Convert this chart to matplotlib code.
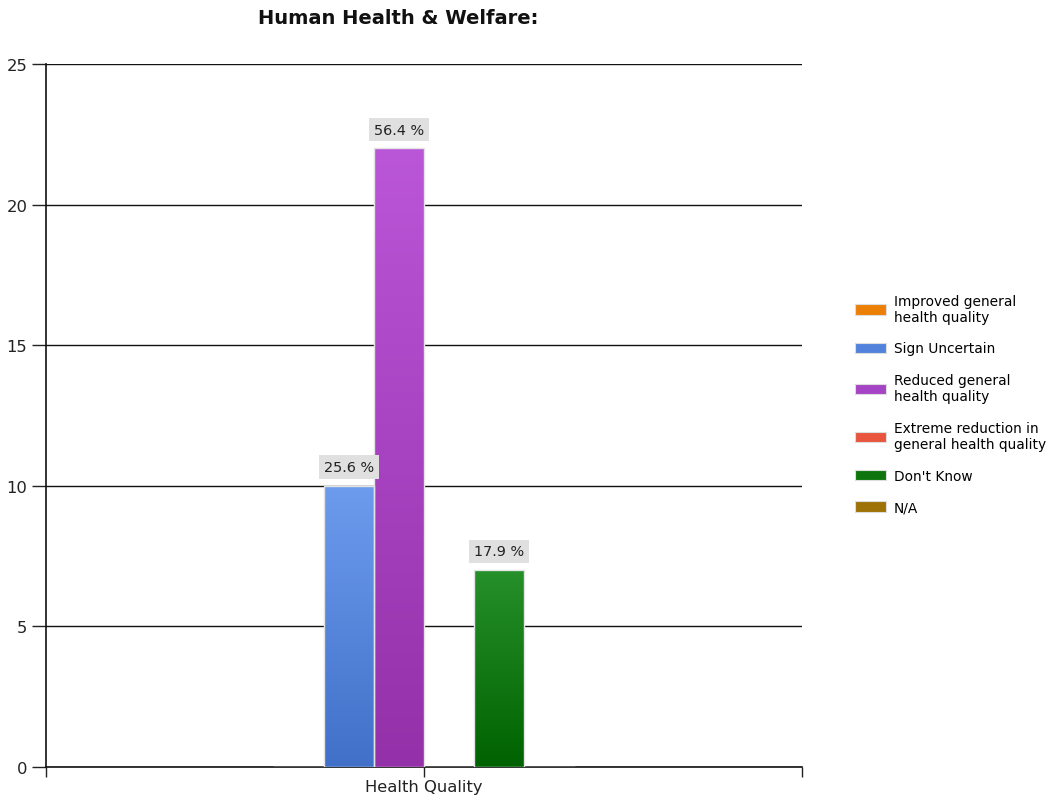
import numpy as np
import matplotlib
matplotlib.use("Agg")
import matplotlib.pyplot as plt
from matplotlib.colors import LinearSegmentedColormap
from matplotlib.patches import Patch

plt.rcParams['font.family'] = ['DejaVu Sans']

title = "Human Health & Welfare:"
category = "Health Quality"
series = ["Improved general\nhealth quality", "Sign Uncertain", "Reduced general\nhealth quality",
          "Extreme reduction in\ngeneral health quality", "Don't Know", "N/A"]
counts = [0, 10, 22, 0, 7, 0]
# gradient colours (top, bottom) for each series
top_colors = ["#F59A30", "#6D9CEE", "#BA56D8", "#F06A50", "#26902A", "#B08820"]
bottom_colors = ["#D06A00", "#4070C8", "#9430A8", "#D04028", "#006200", "#8A6000"]
legend_colors = ["#EC7F06", "#5283DC", "#A544C4", "#E8553C", "#0C760C", "#9E7206"]
y_ticks = [0, 5, 10, 15, 20, 25]

fig = plt.figure(figsize=(10.5, 8.03), dpi=100)
ax = fig.add_axes([46/1050, 1 - 768/803, (802-46)/1050, (768-65)/803])

n = len(series)
bar_w = 0.0664
offsets = (np.arange(n) - (n - 1) / 2) * bar_w
total = sum(counts)

for i, (lab, v) in enumerate(zip(series, counts)):
    x = offsets[i]
    bars = ax.bar(x, v, width=bar_w, facecolor='none', edgecolor='#E4E4E4',
                  linewidth=1.0, zorder=4)
    if v <= 0:
        continue
    patch = bars[0]
    cmap = LinearSegmentedColormap.from_list("g", [bottom_colors[i], top_colors[i]])
    grad = np.linspace(0, 1, 256).reshape(-1, 1)
    im = ax.imshow(grad, cmap=cmap, origin='lower', aspect='auto',
                   extent=(x - bar_w / 2, x + bar_w / 2, 0, v), zorder=3)
    im.set_clip_path(patch)
    pct = v / total * 100
    ax.annotate(f"{pct:.1f} %", xy=(x, v), xytext=(0, 8.5), textcoords='offset points',
                ha='center', va='bottom', fontsize=10.4, color='#222222', zorder=6,
                bbox=dict(boxstyle='square,pad=0.33', fc='#E0E0E0', ec='none'))

ax.set_xlim(-0.5, 0.5)
ax.set_ylim(0, 25)
ax.set_yticks(y_ticks)
ax.set_yticklabels([str(t) for t in y_ticks], fontsize=11.8, color='#222222')
ax.yaxis.grid(True, color='#111111', linewidth=1.0, zorder=1)
ax.set_axisbelow(True)

ax.set_xticks([0])
ax.set_xticklabels([category], fontsize=11.8, color='#222222')
ax.set_xticks([-0.5, 0.5], minor=True)
ax.tick_params(axis='x', which='both', length=7, width=1, color='#222222', pad=2)
ax.tick_params(axis='y', length=10, width=1, color='#222222', pad=3.5)

for s in ['top', 'right']:
    ax.spines[s].set_visible(False)
for s in ['left', 'bottom']:
    ax.spines[s].set_color('#111111')
    ax.spines[s].set_linewidth(1.2)

fig.text(398/1050, 1 - 18/803, title, ha='center', va='center',
         fontsize=14, fontweight='bold', color='#111111')

handles = [Patch(facecolor=c, edgecolor='#DDDDDD', linewidth=0.8) for c in legend_colors]
fig.legend(handles, series, loc='center left', bbox_to_anchor=(855/1050, 1 - 405/803),
           frameon=False, fontsize=9.9, handlelength=2.25, handleheight=0.77,
           handletextpad=0.55, labelspacing=1.28, borderaxespad=0, borderpad=0)

fig.savefig("out.png", dpi=100)
